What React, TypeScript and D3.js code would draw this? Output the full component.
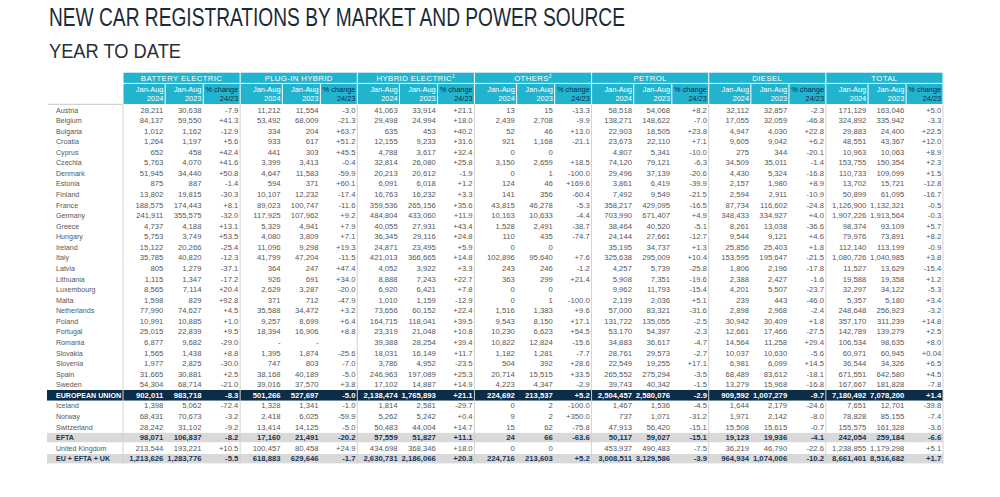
import React from "react";
import * as d3 from "d3";

// rows, top to bottom
const countries = [
  "Austria", "Belgium", "Bulgaria", "Croatia", "Cyprus", "Czechia", "Denmark", "Estonia",
  "Finland", "France", "Germany", "Greece", "Hungary", "Ireland", "Italy", "Latvia",
  "Lithuania", "Luxembourg", "Malta", "Netherlands", "Poland", "Portugal", "Romania",
  "Slovakia", "Slovenia", "Spain", "Sweden", "EUROPEAN UNION", "Iceland", "Norway",
  "Switzerland", "EFTA", "United Kingdom", "EU + EFTA + UK",
];
const darkRows = ["EUROPEAN UNION"];
const greyRows = ["EFTA", "EU + EFTA + UK"];

const sources = ["BATTERY ELECTRIC", "PLUG-IN HYBRID", "HYBRID ELECTRIC", "OTHERS", "PETROL", "DIESEL", "TOTAL"];
const sourceNotes = ["", "", "1", "2", "", "", ""];
const subHeads = [["Jan-Aug", "2024"], ["Jan-Aug", "2023"], ["% change", "24/23"]];

type Cell = [number | null, number | null, string];

const batteryElectric: Cell[] = [
  [28211, 30638, "-7.9"], [84137, 59550, "+41.3"], [1012, 1162, "-12.9"], [1264, 1197, "+5.6"],
  [652, 458, "+42.4"], [5763, 4070, "+41.6"], [51945, 34440, "+50.8"], [875, 887, "-1.4"],
  [13802, 19815, "-30.3"], [188575, 174443, "+8.1"], [241911, 355575, "-32.0"], [4737, 4188, "+13.1"],
  [5753, 3749, "+53.5"], [15122, 20266, "-25.4"], [35785, 40820, "-12.3"], [805, 1279, "-37.1"],
  [1115, 1347, "-17.2"], [8565, 7114, "+20.4"], [1598, 829, "+92.8"], [77990, 74627, "+4.5"],
  [10991, 10885, "+1.0"], [25015, 22839, "+9.5"], [6877, 9682, "-29.0"], [1565, 1438, "+8.8"],
  [1977, 2825, "-30.0"], [31665, 30881, "+2.5"], [54304, 68714, "-21.0"], [902011, 983718, "-8.3"],
  [1398, 5062, "-72.4"], [68431, 70673, "-3.2"], [28242, 31102, "-9.2"], [98071, 106837, "-8.2"],
  [213544, 193221, "+10.5"], [1213626, 1283776, "-5.5"],
];

const plugInHybrid: Cell[] = [
  [11212, 11554, "-3.0"], [53492, 68009, "-21.3"], [334, 204, "+63.7"], [933, 617, "+51.2"],
  [441, 303, "+45.5"], [3399, 3413, "-0.4"], [4647, 11583, "-59.9"], [594, 371, "+60.1"],
  [10107, 12232, "-17.4"], [89023, 100747, "-11.6"], [117925, 107962, "+9.2"], [5329, 4941, "+7.9"],
  [4080, 3809, "+7.1"], [11096, 9298, "+19.3"], [41799, 47204, "-11.5"], [364, 247, "+47.4"],
  [926, 691, "+34.0"], [2629, 3287, "-20.0"], [371, 712, "-47.9"], [35588, 34472, "+3.2"],
  [9257, 8699, "+6.4"], [18394, 16906, "+8.8"], [null, null, ""], [1395, 1874, "-25.6"],
  [747, 803, "-7.0"], [38168, 40189, "-5.0"], [39016, 37570, "+3.8"], [501266, 527697, "-5.0"],
  [1328, 1341, "-1.0"], [2418, 6025, "-59.9"], [13414, 14125, "-5.0"], [17160, 21491, "-20.2"],
  [100457, 80458, "+24.9"], [618883, 629646, "-1.7"],
];

const hybridElectric: Cell[] = [
  [41063, 33914, "+21.1"], [29498, 24994, "+18.0"], [635, 453, "+40.2"], [12155, 9233, "+31.6"],
  [4788, 3617, "+32.4"], [32814, 26080, "+25.8"], [20213, 20612, "-1.9"], [6091, 6018, "+1.2"],
  [16763, 16232, "+3.3"], [359536, 265156, "+35.6"], [484804, 433060, "+11.9"], [40055, 27931, "+43.4"],
  [36345, 29116, "+24.8"], [24871, 23495, "+5.9"], [421013, 366665, "+14.8"], [4052, 3922, "+3.3"],
  [8888, 7243, "+22.7"], [6920, 6421, "+7.8"], [1010, 1159, "-12.9"], [73656, 60152, "+22.4"],
  [164715, 118041, "+39.5"], [23319, 21048, "+10.8"], [39388, 28254, "+39.4"], [18031, 16149, "+11.7"],
  [3786, 4952, "-23.5"], [246963, 197089, "+25.3"], [17102, 14887, "+14.9"], [2138474, 1765893, "+21.1"],
  [1814, 2581, "-29.7"], [5262, 5242, "+0.4"], [50483, 44004, "+14.7"], [57559, 51827, "+11.1"],
  [434698, 368346, "+18.0"], [2630731, 2186066, "+20.3"],
];

const others: Cell[] = [
  [13, 15, "-13.3"], [2439, 2708, "-9.9"], [52, 46, "+13.0"], [921, 1168, "-21.1"],
  [0, 0, ""], [3150, 2659, "+18.5"], [0, 1, "-100.0"], [124, 46, "+169.6"],
  [141, 356, "-60.4"], [43815, 46278, "-5.3"], [10163, 10633, "-4.4"], [1528, 2491, "-38.7"],
  [110, 435, "-74.7"], [0, 0, ""], [102896, 95640, "+7.6"], [243, 246, "-1.2"],
  [363, 299, "+21.4"], [0, 0, ""], [0, 1, "-100.0"], [1516, 1383, "+9.6"],
  [9543, 8150, "+17.1"], [10230, 6623, "+54.5"], [10822, 12824, "-15.6"], [1182, 1281, "-7.7"],
  [504, 392, "+28.6"], [20714, 15515, "+33.5"], [4223, 4347, "-2.9"], [224692, 213537, "+5.2"],
  [0, 2, "-100.0"], [9, 2, "+350.0"], [15, 62, "-75.8"], [24, 66, "-63.6"],
  [0, 0, ""], [224716, 213603, "+5.2"],
];

const petrol: Cell[] = [
  [58518, 54068, "+8.2"], [138271, 148622, "-7.0"], [22903, 18505, "+23.8"], [23673, 22110, "+7.1"],
  [4807, 5341, "-10.0"], [74120, 79121, "-6.3"], [29496, 37139, "-20.6"], [3861, 6419, "-39.9"],
  [7492, 9549, "-21.5"], [358217, 429095, "-16.5"], [703990, 671407, "+4.9"], [38464, 40520, "-5.1"],
  [24144, 27661, "-12.7"], [35195, 34737, "+1.3"], [325638, 295009, "+10.4"], [4257, 5739, "-25.8"],
  [5908, 7351, "-19.6"], [9962, 11793, "-15.4"], [2139, 2036, "+5.1"], [57000, 83321, "-31.6"],
  [131722, 135055, "-2.5"], [53170, 54397, "-2.3"], [34883, 36617, "-4.7"], [28761, 29573, "-2.7"],
  [22549, 19255, "+17.1"], [265552, 275294, "-3.5"], [39743, 40342, "-1.5"], [2504457, 2580076, "-2.9"],
  [1467, 1536, "-4.5"], [737, 1071, "-31.2"], [47913, 56420, "-15.1"], [50117, 59027, "-15.1"],
  [453937, 490483, "-7.5"], [3008511, 3129586, "-3.9"],
];

const diesel: Cell[] = [
  [32112, 32857, "-2.3"], [17055, 32059, "-46.8"], [4947, 4030, "+22.8"], [9605, 9042, "+6.2"],
  [275, 344, "-20.1"], [34509, 35011, "-1.4"], [4430, 5324, "-16.8"], [2157, 1980, "+8.9"],
  [2594, 2911, "-10.9"], [87734, 116602, "-24.8"], [348433, 334927, "+4.0"], [8261, 13038, "-36.6"],
  [9544, 9121, "+4.6"], [25856, 25403, "+1.8"], [153595, 195647, "-21.5"], [1806, 2196, "-17.8"],
  [2388, 2427, "-1.6"], [4201, 5507, "-23.7"], [239, 443, "-46.0"], [2898, 2968, "-2.4"],
  [30942, 30409, "+1.8"], [12661, 17466, "-27.5"], [14564, 11258, "+29.4"], [10037, 10630, "-5.6"],
  [6981, 6099, "+14.5"], [68489, 83612, "-18.1"], [13279, 15968, "-16.8"], [909592, 1007279, "-9.7"],
  [1644, 2179, "-24.6"], [1971, 2142, "-8.0"], [15508, 15615, "-0.7"], [19123, 19936, "-4.1"],
  [36219, 46790, "-22.6"], [964934, 1074006, "-10.2"],
];

const total: Cell[] = [
  [171129, 163046, "+5.0"], [324892, 335942, "-3.3"], [29883, 24400, "+22.5"], [48551, 43367, "+12.0"],
  [10963, 10063, "+8.9"], [153755, 150354, "+2.3"], [110733, 109099, "+1.5"], [13702, 15721, "-12.8"],
  [50899, 61095, "-16.7"], [1126900, 1132321, "-0.5"], [1907226, 1913564, "-0.3"], [98374, 93109, "+5.7"],
  [79976, 73891, "+8.2"], [112140, 113199, "-0.9"], [1080726, 1040985, "+3.8"], [11527, 13629, "-15.4"],
  [19588, 19358, "+1.2"], [32297, 34122, "-5.3"], [5357, 5180, "+3.4"], [248648, 256923, "-3.2"],
  [357170, 311239, "+14.8"], [142789, 139279, "+2.5"], [106534, 98635, "+8.0"], [60971, 60945, "+0.04"],
  [36544, 34326, "+6.5"], [671551, 642580, "+4.5"], [167667, 181828, "-7.8"], [7180492, 7078200, "+1.4"],
  [7651, 12701, "-39.8"], [78828, 85155, "-7.4"], [155575, 161328, "-3.6"], [242054, 259184, "-6.6"],
  [1238855, 1179298, "+5.1"], [8661401, 8516682, "+1.7"],
];

const columns = [batteryElectric, plugInHybrid, hybridElectric, others, petrol, diesel, total];

const W = 1000;
const H = 497;
const TEAL = "#22b4ce";
const NAVY = "#0c2d47";
const TEXT = "#575757";
const FONT = "'Liberation Sans', Arial, sans-serif";

export default function App() {
  const tableTop = 104.6;
  const rowH = 10.57;
  const left = 47;
  const labelRight = 123;
  const right = 943;

  const y = d3.scaleBand<string>()
    .domain(countries)
    .range([tableTop, tableTop + rowH * countries.length]);

  const gx = d3.scaleBand<string>()
    .domain(sources)
    .range([labelRight, right]);
  const gw = gx.bandwidth();

  // right edge of each sub-column, as a share of the group width
  const subEdge = d3.scaleOrdinal<number, number>().domain([0, 1, 2]).range([0.36, 0.685, 1]);
  const subLeft = (i: number) => (i === 0 ? 0 : subEdge(i - 1));

  const fmt = d3.format(",");
  const show = (v: number | null) => (v === null ? "-" : fmt(v));

  const tableBottom = tableTop + rowH * countries.length;

  return (
    <svg width={W} height={H} style={{ position: "absolute", left: 0, top: 0, background: "#fff" }}
      fontFamily={FONT}>
      <rect width={W} height={H} fill="#fff" />
      <text x={49} y={25.5} fontSize={26.5} fill="#1b2a38" textLength={576} lengthAdjust="spacingAndGlyphs">
        NEW CAR REGISTRATIONS BY MARKET AND POWER SOURCE
      </text>
      <text x={49} y={58.2} fontSize={21} fill="#2a2f36" textLength={132} lengthAdjust="spacingAndGlyphs">
        YEAR TO DATE
      </text>

      {/* header */}
      {sources.map((s, g) => {
        const x0 = gx(s)!;
        return (
          <g key={s}>
            <rect x={x0 + 0.5} y={72.7} width={gw - 1} height={10.2} fill={TEAL} />
            <text x={x0 + gw / 2} y={80.8} fontSize={7.8} fill="#fff" textAnchor="middle" letterSpacing={0.35}>
              {s}
              {sourceNotes[g] && <tspan fontSize={5} dy={-3}>{sourceNotes[g]}</tspan>}
            </text>
            {subHeads.map((h, i) => {
              const a = x0 + subLeft(i) * gw;
              const b = x0 + subEdge(i) * gw;
              const col = i === 2 ? NAVY : "#fff";
              return (
                <g key={i}>
                  <rect x={a + 0.5} y={84} width={b - a - 1} height={20} fill={TEAL} />
                  <text x={b - 1.8} y={91.6} fontSize={7.4} fill={col} textAnchor="end">{h[0]}</text>
                  <text x={b - 1.8} y={101} fontSize={7.4} fill={col} textAnchor="end">{h[1]}</text>
                </g>
              );
            })}
          </g>
        );
      })}

      <line x1={left + 1} x2={labelRight} y1={tableTop - 0.3} y2={tableTop - 0.3} stroke="#c8c8c8" strokeWidth={1} />

      {/* highlighted rows */}
      {countries.map((c) => {
        if (darkRows.includes(c)) {
          return <rect key={c} x={left} y={y(c)!} width={right - left} height={rowH} fill={NAVY} />;
        }
        if (greyRows.includes(c)) {
          return <rect key={c} x={left} y={y(c)! + 0.6} width={right - left} height={rowH - 1.2} fill="#d9d9d9" />;
        }
        return null;
      })}

      {/* vertical separators */}
      {[labelRight, ...sources.slice(1).map((s) => gx(s)!), right].map((x, i) => (
        <line key={i} x1={x} x2={x} y1={tableTop} y2={tableBottom} stroke="#d2d2d2" strokeWidth={1} />
      ))}

      {/* body */}
      {countries.map((c, r) => {
        const dark = darkRows.includes(c);
        const grey = greyRows.includes(c);
        const fill = dark ? "#fff" : grey ? "#17365a" : TEXT;
        const weight = dark || grey ? "bold" : "normal";
        const base = y(c)! + 7.9;
        return (
          <g key={c} fill={fill} fontWeight={weight} fontSize={7.7}>
            <text x={56} y={base} fontSize={7.1}>{c}</text>
            {columns.map((col, g) => {
              const x0 = gx(sources[g])!;
              const cell = col[r];
              const vals = [show(cell[0]), show(cell[1]), cell[2]];
              return vals.map((v, i) => (
                <text key={`${g}-${i}`} x={x0 + subEdge(i) * gw - 1.8} y={base} textAnchor="end">{v}</text>
              ));
            })}
          </g>
        );
      })}
    </svg>
  );
}
